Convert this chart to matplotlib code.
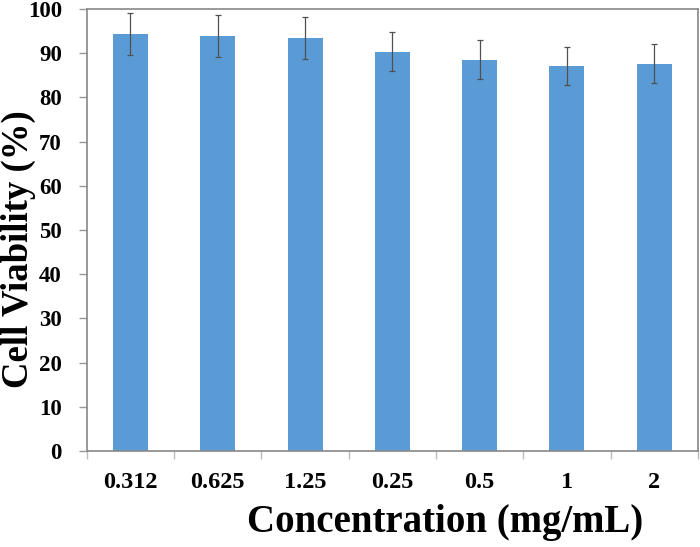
import matplotlib.pyplot as plt
import numpy as np

conc = ['0.312', '0.625', '1.25', '0.25', '0.5', '1', '2']
viability = [94.3, 93.9, 93.4, 90.3, 88.5, 87.1, 87.6]
err = [4.8, 4.7, 4.7, 4.4, 4.4, 4.4, 4.4]

plt.rcParams['font.family'] = ['Liberation Serif', 'DejaVu Serif']
plt.rcParams['font.weight'] = 'bold'

fig = plt.figure(figsize=(7, 5.47), dpi=100)
ax = fig.add_axes([0.124, 0.1755, 0.873, 0.808])

x = np.arange(len(conc))
ax.bar(x, viability, width=0.4, color='#5B9BD5', zorder=2)
ax.errorbar(x, viability, yerr=err, fmt='none', ecolor='#505050',
            elinewidth=0.9, capsize=2.5, capthick=0.9, zorder=3)

ax.set_xlim(-0.5, len(conc) - 0.5)
ax.set_ylim(0, 100)
ax.set_yticks(np.arange(0, 101, 10))
ax.tick_params(axis='y', labelsize=16.5, color='#999999', length=6, width=1,
               direction='out', pad=12)

ax.set_xticks(x)
ax.set_xticklabels(conc, fontsize=17.5, fontweight='bold')
ax.tick_params(axis='x', length=0, pad=15)
ax.set_xticks(np.arange(-0.5, len(conc) + 0.5, 1), minor=True)
ax.tick_params(axis='x', which='minor', length=6, color='#bbbbbb', width=1, direction='out')

for s in ax.spines.values():
    s.set_color('#888888')
    s.set_linewidth(1.2)

fig.text(0.027, 0.545, 'Cell Viability (%)', fontsize=26.5, fontweight='bold',
         rotation=90, ha='center', va='center')
fig.text(0.636, 0.044, 'Concentration (mg/mL)', fontsize=28, fontweight='bold',
         ha='center', va='center')

plt.savefig('out.png', dpi=100)
